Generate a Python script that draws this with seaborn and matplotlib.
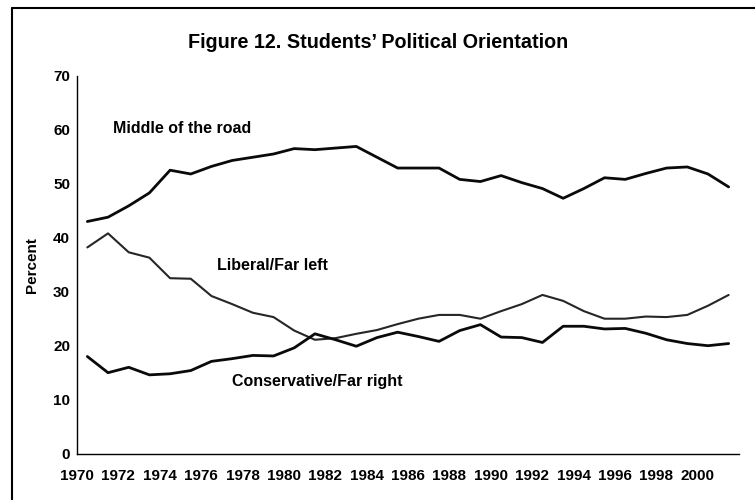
import numpy as np
import pandas as pd
import matplotlib
matplotlib.use("Agg")
import matplotlib.pyplot as plt
from matplotlib.lines import Line2D
import seaborn as sns

years = list(range(1970, 2002))
middle = [43.0, 43.8, 45.9, 48.3, 52.5, 51.8, 53.2, 54.3, 54.9, 55.5,
          56.5, 56.3, 56.6, 56.9, 54.9, 52.9, 52.9, 52.9, 50.8, 50.4,
          51.5, 50.2, 49.1, 47.3, 49.1, 51.1, 50.8, 51.9, 52.9, 53.1,
          51.8, 49.4]
liberal = [38.2, 40.8, 37.3, 36.3, 32.5, 32.4, 29.2, 27.7, 26.1, 25.3,
           22.8, 21.1, 21.4, 22.2, 22.9, 24.0, 25.0, 25.7, 25.7, 25.0,
           26.4, 27.7, 29.4, 28.3, 26.4, 25.0, 25.0, 25.4, 25.3, 25.7,
           27.4, 29.4]
conservative = [18.0, 15.0, 16.0, 14.6, 14.8, 15.4, 17.1, 17.6, 18.2, 18.1,
                19.6, 22.2, 21.1, 19.9, 21.5, 22.5, 21.7, 20.8, 22.8, 23.9,
                21.6, 21.5, 20.6, 23.6, 23.6, 23.1, 23.2, 22.3, 21.1, 20.4,
                20.0, 20.4]
series_names = ["Middle of the road", "Liberal/Far left", "Conservative/Far right"]
title = "Figure 12. Students\u2019 Political Orientation"
y_label = "Percent"
y_ticks = [0, 10, 20, 30, 40, 50, 60, 70]

sns.set_theme(style="white")
plt.rcParams['font.family'] = ['Liberation Sans', 'DejaVu Sans']
plt.rcParams['font.weight'] = 'bold'
plt.rcParams['text.color'] = 'black'
plt.rcParams['axes.labelcolor'] = 'black'
plt.rcParams['xtick.color'] = 'black'
plt.rcParams['ytick.color'] = 'black'

df = pd.DataFrame({"year": years, "middle": middle, "liberal": liberal,
                   "conservative": conservative})
df["xpos"] = df["year"] + 0.5  # category-centred positions

fig = plt.figure(figsize=(7.55, 5.0), dpi=100)
ax = fig.add_axes([77/755, 1-453.7/500, (739-77)/755, (453.7-75.7)/500])

sns.lineplot(data=df, x="xpos", y="middle", ax=ax, color="#0a0a0a", linewidth=2.0)
sns.lineplot(data=df, x="xpos", y="liberal", ax=ax, color="#262626", linewidth=1.5)
sns.lineplot(data=df, x="xpos", y="conservative", ax=ax, color="#0a0a0a", linewidth=2.0)

ax.set_xlim(1970, 2002)
ax.set_ylim(0, 70)
ax.set_xticks(range(1970, 2003))
ax.set_xticklabels([str(y) if (y % 2 == 0 and y <= 2000) else "" for y in range(1970, 2003)])
ax.set_yticks(y_ticks)
ax.set_yticklabels([str(v) for v in y_ticks])
ax.tick_params(axis='both', direction='out', length=4, width=1, color='black',
               labelsize=11, labelcolor='black')
ax.tick_params(axis='x', pad=7)
ax.tick_params(axis='y', pad=1)
for lab in ax.get_xticklabels() + ax.get_yticklabels():
    lab.set_fontweight('bold')

for s in ["top", "right"]:
    ax.spines[s].set_visible(False)
for s in ["left", "bottom"]:
    ax.spines[s].set_color("black")
    ax.spines[s].set_linewidth(1.0)

ax.set_xlabel("")
ax.set_ylabel(y_label, fontsize=11, fontweight='bold', labelpad=10, color='black')

ax.text(1971.73, 60.3, series_names[0], fontsize=11.5, fontweight='bold',
        va='center', ha='left', color='black')
ax.text(1976.75, 34.9, series_names[1], fontsize=11.5, fontweight='bold',
        va='center', ha='left', color='black')
ax.text(1977.5, 13.3, series_names[2], fontsize=11.5, fontweight='bold',
        va='center', ha='left', color='black')

fig.text(378/755, 1-42/500, title, fontsize=14.2, fontweight='bold',
         ha='center', va='center', color='black')

# outer frame (left and top edges visible)
fig.add_artist(Line2D([12/755, 12/755], [-0.01, 1-8/500], transform=fig.transFigure,
                      color='black', linewidth=1.5))
fig.add_artist(Line2D([12/755, 1.01], [1-8/500, 1-8/500], transform=fig.transFigure,
                      color='black', linewidth=1.5))

fig.savefig("out.png", dpi=100)
